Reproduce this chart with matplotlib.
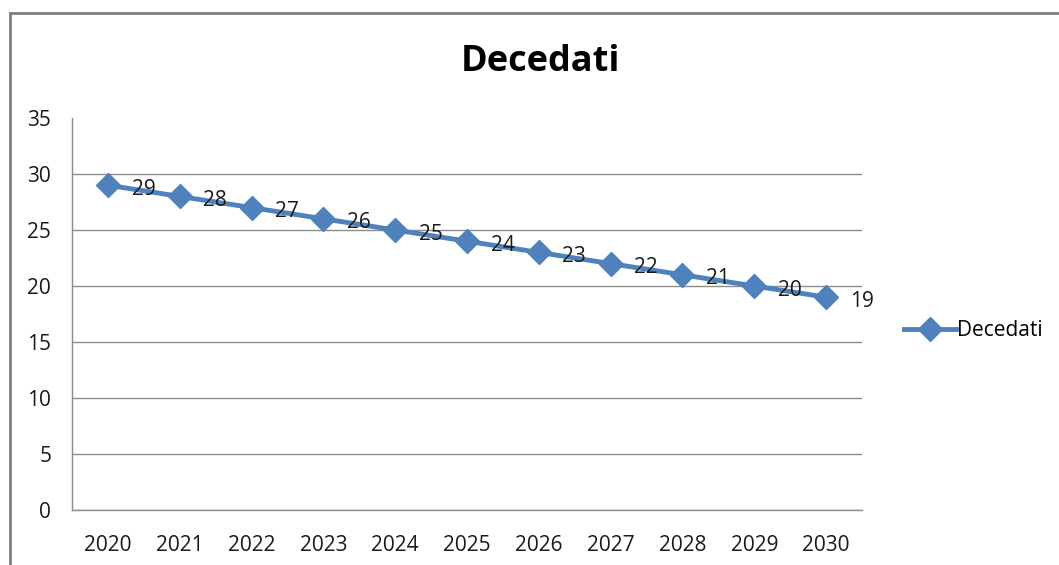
import matplotlib.pyplot as plt
from matplotlib.lines import Line2D

years = ['2020', '2021', '2022', '2023', '2024', '2025', '2026', '2027', '2028', '2029', '2030']
decedati = [29, 28, 27, 26, 25, 24, 23, 22, 21, 20, 19]
y_ticks = [0, 5, 10, 15, 20, 25, 30, 35]

plt.rcParams['font.family'] = ['Open Sans', 'DejaVu Sans']

blue = '#4F81BD'
grey = '#8C8C8C'

fig = plt.figure(figsize=(10.59, 5.65), dpi=100)
ax = fig.add_axes([72 / 1059, 1 - 510 / 565, 790 / 1059, 392 / 565])

x = list(range(len(years)))
ax.plot(x, decedati, color=blue, linewidth=3.5, marker='D', markersize=12,
        label='Decedati')
for xi, v in zip(x, decedati):
    ax.annotate(str(v), (xi, v), xytext=(17, -3), textcoords='offset points',
                ha='left', va='center', fontsize=15, color='#1a1a1a')

ax.set_xlim(-0.5, len(years) - 0.5)
ax.set_ylim(0, 35)
ax.set_xticks(x)
ax.set_xticklabels(years)
ax.set_yticks(y_ticks)
ax.tick_params(length=0, labelsize=15, colors='#1a1a1a')
ax.tick_params(axis='x', pad=18)
ax.tick_params(axis='y', pad=15)

ax.grid(axis='y', color=grey, linewidth=1)
ax.set_axisbelow(True)
ax.yaxis.get_gridlines()[-1].set_visible(False)
for side in ['top', 'right']:
    ax.spines[side].set_visible(False)
for side in ['left', 'bottom']:
    ax.spines[side].set_color(grey)
    ax.spines[side].set_linewidth(1)

fig.text(540 / 1059, 1 - 62 / 565, 'Decedati', ha='center', va='center',
         fontsize=26, fontweight='bold')

fig.legend(loc='center left', bbox_to_anchor=(885 / 1059, 1 - 331 / 565),
           frameon=False, fontsize=15, handlelength=2.5, handletextpad=0.05)

# chart frame, cut off at right and bottom
fx = 10 / 1059
fy = 1 - 13 / 565
fig.add_artist(Line2D([fx, fx], [0, fy], color='#7F7F7F', linewidth=2, transform=fig.transFigure))
fig.add_artist(Line2D([fx, 1], [fy, fy], color='#7F7F7F', linewidth=2, transform=fig.transFigure))

fig.savefig('out.png', dpi=100)
